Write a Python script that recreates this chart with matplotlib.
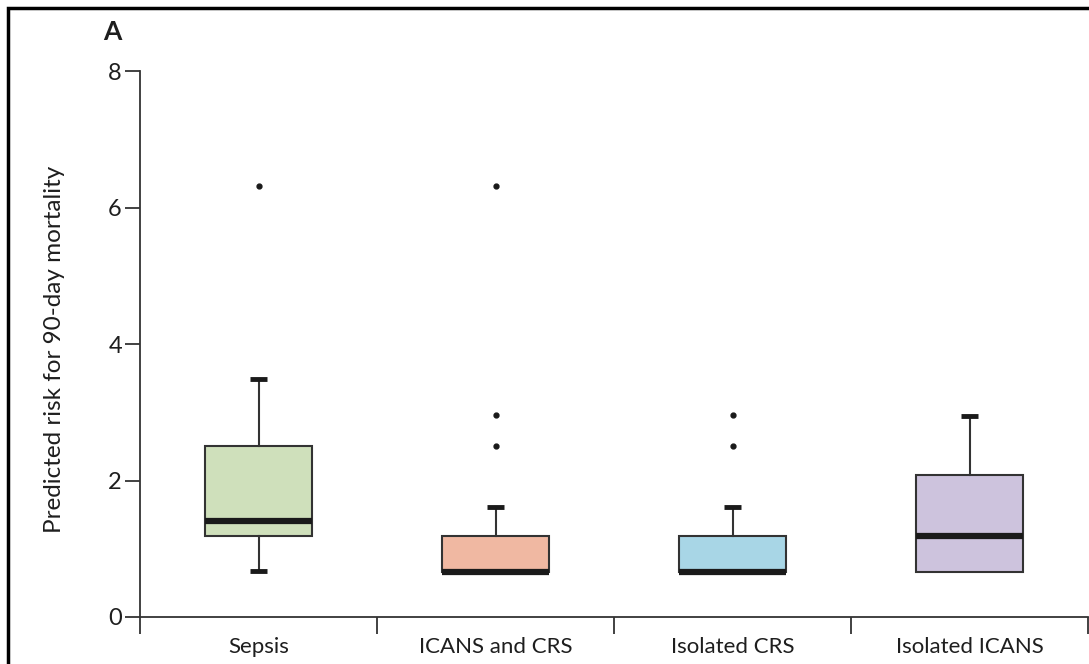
import matplotlib
matplotlib.use("Agg")
import matplotlib.pyplot as plt
from matplotlib.patches import Rectangle

plt.rcParams['font.family'] = ['Lato', 'DejaVu Sans']

# box statistics
groups = ['Sepsis', 'ICANS and CRS', 'Isolated CRS', 'Isolated ICANS']
whislo = [0.67, 0.66, 0.66, 0.66]
q1 = [1.19, 0.66, 0.66, 0.66]
med = [1.41, 0.66, 0.66, 1.19]
q3 = [2.51, 1.18, 1.18, 2.08]
whishi = [3.49, 1.61, 1.61, 2.94]
fliers = [[6.31], [6.31, 2.96, 2.51], [2.96, 2.51], []]
colors = ['#cfe0bb', '#f0b8a2', '#a8d6e6', '#cdc3dd']

stats = []
for i, g in enumerate(groups):
    stats.append(dict(label=g, whislo=whislo[i], q1=q1[i], med=med[i],
                      q3=q3[i], whishi=whishi[i], fliers=fliers[i]))

fig = plt.figure(figsize=(10.89, 6.64), dpi=100)
ax = fig.add_axes([0.1286, 0.0708, 0.8705, 0.8222])

edge = '#333333'
bp = ax.bxp(stats, positions=[1, 2, 3, 4], widths=0.45, capwidths=0.07,
            patch_artist=True,
            boxprops=dict(edgecolor=edge, linewidth=1.5),
            medianprops=dict(color='#1a1a1a', linewidth=4.5, solid_capstyle='butt'),
            whiskerprops=dict(color=edge, linewidth=1.5),
            capprops=dict(color='#1a1a1a', linewidth=3.5, solid_capstyle='butt'),
            flierprops=dict(marker='o', markersize=3.5, markerfacecolor='#1a1a1a',
                            markeredgecolor='#1a1a1a'))
for patch, c in zip(bp['boxes'], colors):
    patch.set_facecolor(c)
# no lower whisker/cap where the minimum equals the first quartile
for i in range(len(groups)):
    if whislo[i] >= q1[i]:
        bp['caps'][2 * i].set_visible(False)
        bp['whiskers'][2 * i].set_visible(False)

ax.set_xlim(0.5, 4.5)
ax.set_ylim(0, 8)
ax.set_yticks([0, 2, 4, 6, 8])
ax.set_xticks([0.5, 1.5, 2.5, 3.5, 4.5])
ax.set_xticklabels([])
for i, g in enumerate(groups):
    ax.text(i + 1, -0.29, g, ha='center', va='top', fontsize=16,
            color='#1e1e1e')

for s in ['top', 'right']:
    ax.spines[s].set_visible(False)
for s in ['left', 'bottom']:
    ax.spines[s].set_color('#333333')
    ax.spines[s].set_linewidth(1.3)
ax.tick_params(axis='y', length=11, width=1.3, color='#333333', labelsize=17,
               labelcolor='#1e1e1e', pad=2)
ax.tick_params(axis='x', length=12, width=1.3, color='#333333')

ax.set_ylabel('Predicted risk for 90-day mortality', fontsize=17.5, color='#1e1e1e')
ax.yaxis.set_label_coords(-0.079, 0.49)
fig.text(0.103, 0.952, 'A', fontsize=19, fontweight='bold', color='#1e1e1e',
         va='center', ha='center')

fig.patches.append(Rectangle((8 / 1089, -0.1), 1.2, 1 - 8 / 664 + 0.1,
                             transform=fig.transFigure, fill=False,
                             edgecolor='black', linewidth=2.5))

fig.savefig('out.png', dpi=100)
